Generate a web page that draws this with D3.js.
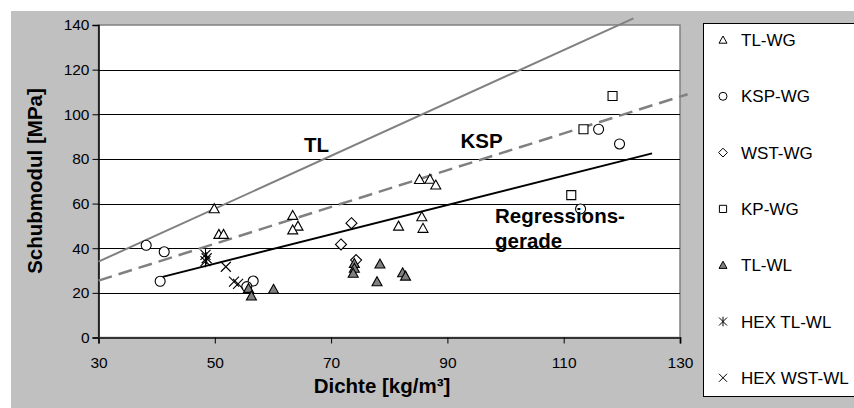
<!DOCTYPE html>
<html>
<head>
<meta charset="utf-8">
<script src="https://cdn.jsdelivr.net/npm/d3@7/dist/d3.min.js"></script>
<style>
  body { margin: 0; background: #fff; }
  text { font-family: Arial, "Liberation Sans", sans-serif; }
</style>
</head>
<body>
<div id="chart"></div>
<script>
// ticks
var xTicks = [30, 50, 70, 90, 110, 130];
var yTicks = [0, 20, 40, 60, 80, 100, 120, 140];

// series [Dichte, Schubmodul]
var tlWG = [[49.9, 57.7], [50.7, 46.2], [51.5, 46.2], [63.4, 54.7], [64.3, 49.9], [63.4, 48.2],
            [81.6, 49.9], [85.2, 70.8], [87, 70.9], [88, 68.3], [85.6, 54.1], [85.8, 48.9]];
var kspWG = [[38.2, 41.3], [41.3, 38.4], [40.6, 25.2], [56.6, 25.3], [55.5, 22.8],
             [116, 93.3], [119.6, 86.7], [112.9, 57.6]];
var wstWG = [[73.5, 51.2], [71.7, 41.7], [74.3, 34.7]];
var kpWG = [[118.4, 108.2], [113.4, 93.3], [111.3, 63.8]];
var tlWL = [[55.8, 22], [56.3, 18.6], [60.1, 21.6], [74, 33.2], [74, 31], [73.8, 28.8],
            [78.4, 32.9], [77.9, 25], [82.3, 29], [82.8, 27.5]];
var hexTlWL = [[48.4, 37], [48.6, 35.5], [48.4, 34.2]];
var hexWstWL = [[51.9, 31.7], [53.3, 25], [54, 24]];

// straight lines (end points)
var lineTL = [[30, 34], [122, 143]];
var lineKSP = [[30, 25.5], [131.3, 109]];
var lineReg = [[40, 26.5], [125.2, 82.5]];

var legendNames = ["TL-WG", "KSP-WG", "WST-WG", "KP-WG", "TL-WL", "HEX TL-WL", "HEX WST-WL"];

var width = 854, height = 408;
var svg = d3.select("#chart").append("svg")
    .attr("width", width).attr("height", height);

// grey chart area
svg.append("rect").attr("x", 11).attr("y", 11).attr("width", 843).attr("height", 397)
    .attr("fill", "#c0c0c0");

var x = d3.scaleLinear().domain([30, 130]).range([98.5, 680]);
var y = d3.scaleLinear().domain([0, 140]).range([337.5, 25]);

// plot area
svg.append("rect").attr("x", 98.5).attr("y", 25).attr("width", 581.5).attr("height", 312.5)
    .attr("fill", "#fff").attr("stroke", "#808080").attr("stroke-width", 1.5);

// gridlines
svg.append("g").selectAll("line").data(yTicks.filter(d => d > 0 && d < 140)).enter()
    .append("line")
    .attr("x1", x(30)).attr("x2", x(130))
    .attr("y1", d => Math.round(y(d)) + 0.5).attr("y2", d => Math.round(y(d)) + 0.5)
    .attr("stroke", "#000").attr("stroke-width", 1);

// axes
var yAxis = svg.append("g").attr("transform", "translate(98.5,0)")
    .call(d3.axisLeft(y).tickValues(yTicks).tickSize(6).tickPadding(3));
var xAxis = svg.append("g").attr("transform", "translate(0,337.5)")
    .call(d3.axisBottom(x).tickValues(xTicks).tickSize(6).tickPadding(13));
[yAxis, xAxis].forEach(function (g) {
    g.select(".domain").attr("stroke", "#000").attr("stroke-width", 1.5);
    g.selectAll(".tick line").attr("stroke", "#000");
    g.selectAll(".tick text").attr("font-size", 15.5).attr("fill", "#000")
        .attr("font-family", "Arial, 'Liberation Sans', sans-serif");
});
xAxis.select(".domain").attr("stroke", "#333").attr("stroke-width", 2);

// lines
var line = d3.line().x(d => x(d[0])).y(d => y(d[1]));
svg.append("path").datum(lineTL).attr("d", line)
    .attr("stroke", "#808080").attr("stroke-width", 2).attr("fill", "none");
svg.append("path").datum(lineKSP).attr("d", line)
    .attr("stroke", "#808080").attr("stroke-width", 2.5).attr("stroke-dasharray", "14,7").attr("fill", "none");
svg.append("path").datum(lineReg).attr("d", line)
    .attr("stroke", "#000").attr("stroke-width", 2).attr("fill", "none");

// marker paths, centred at 0,0
function markerPath(type, s) {
    var h = 5 * s;
    if (type == "tri") return "M0," + (-h) + "L" + h + "," + (h * 0.8) + "L" + (-h) + "," + (h * 0.8) + "Z";
    if (type == "circle") return d3.arc()({innerRadius: 0, outerRadius: h, startAngle: 0, endAngle: 2 * Math.PI});
    if (type == "square") return "M" + (-h * 0.9) + "," + (-h * 0.9) + "h" + (1.8 * h) + "v" + (1.8 * h) + "h" + (-1.8 * h) + "Z";
    if (type == "diamond") return "M0," + (-h * 1.1) + "L" + (h * 1.1) + ",0L0," + (h * 1.1) + "L" + (-h * 1.1) + ",0Z";
    if (type == "star") return "M" + (-h) + "," + (-h) + "L" + h + "," + h + "M" + h + "," + (-h) + "L" + (-h) + "," + h + "M0," + (-h * 1.2) + "V" + (h * 1.2);
    if (type == "x") return "M" + (-h) + "," + (-h) + "L" + h + "," + h + "M" + h + "," + (-h) + "L" + (-h) + "," + h;
}

var series = [
    {data: tlWG, type: "tri", fill: "#fff"},
    {data: kspWG, type: "circle", fill: "#fff"},
    {data: wstWG, type: "diamond", fill: "#fff"},
    {data: kpWG, type: "square", fill: "#fff"},
    {data: tlWL, type: "tri", fill: "#808080"},
    {data: hexTlWL, type: "star", fill: "none"},
    {data: hexWstWL, type: "x", fill: "none"}
];

series.forEach(function (s) {
    svg.append("g").selectAll("path").data(s.data).enter()
        .append("path")
        .attr("transform", d => "translate(" + x(d[0]) + "," + y(d[1]) + ")")
        .attr("d", markerPath(s.type, 1))
        .attr("fill", s.fill).attr("stroke", "#000").attr("stroke-width", 1.1);
});

// line labels
var labels = svg.append("g").attr("font-weight", "bold").attr("font-size", 20.5).attr("fill", "#000");
labels.append("text").attr("x", 304).attr("y", 151.5).text("TL");
labels.append("text").attr("x", 460.5).attr("y", 148).text("KSP");
labels.append("text").attr("x", 495).attr("y", 223).text("Regressions-");
labels.append("text").attr("x", 495).attr("y", 248).text("gerade");

// axis titles
svg.append("text").attr("x", 382).attr("y", 393).attr("text-anchor", "middle")
    .attr("font-weight", "bold").attr("font-size", 20.5).text("Dichte [kg/m³]");
svg.append("text").attr("transform", "translate(42,181) rotate(-90)").attr("text-anchor", "middle")
    .attr("font-weight", "bold").attr("font-size", 20.5).text("Schubmodul [MPa]");

// legend
svg.append("rect").attr("x", 703.5).attr("y", 23.5).attr("width", 160).attr("height", 373)
    .attr("fill", "#fff").attr("stroke", "#000").attr("stroke-width", 1);
var leg = svg.append("g").selectAll("g").data(series).enter().append("g")
    .attr("transform", (d, i) => "translate(723," + (40 + i * 56.3) + ")");
leg.append("path").attr("d", d => markerPath(d.type, 0.8))
    .attr("fill", d => d.fill).attr("stroke", "#000").attr("stroke-width", 1);
leg.append("text").attr("x", 18).attr("y", 6).attr("font-size", 17)
    .text((d, i) => legendNames[i]);
</script>
</body>
</html>
